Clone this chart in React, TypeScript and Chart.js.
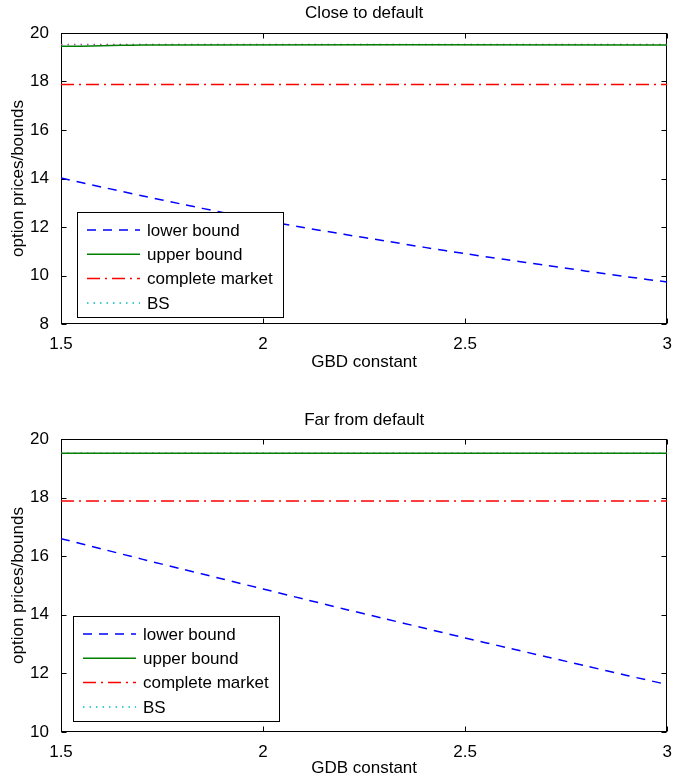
import React, { useEffect, useRef } from "react";
import { Chart, registerables } from "chart.js";

Chart.register(...registerables);

// ---------------- data ----------------
const SERIES_LABELS = ["lower bound", "upper bound", "complete market", "BS"];

const X_GRID = [1.5, 1.6, 1.7, 1.8, 1.9, 2.0, 2.1, 2.2, 2.3, 2.4, 2.5, 2.6, 2.7, 2.8, 2.9, 3.0];
const X_ENDS = [1.5, 3.0];
const X_TICKS = [1.5, 2.0, 2.5, 3.0];
const X_TICK_LABELS = ["1.5", "2", "2.5", "3"];

// Close to default
const TOP_LOWER = [14.02, 13.65, 13.29, 12.94, 12.6, 12.28, 11.98, 11.7, 11.43, 11.16, 10.9, 10.66, 10.42, 10.18, 9.95, 9.73];
const TOP_UPPER_X = [1.5, 1.55, 1.6, 1.65, 1.7, 3.0];
const TOP_UPPER = [19.45, 19.455, 19.47, 19.49, 19.51, 19.51];
const TOP_COMPLETE = [17.88, 17.88];
const TOP_BS = [19.53, 19.53];
const TOP_Y_TICKS = [8, 10, 12, 14, 16, 18, 20];

// Far from default
const BOT_LOWER = [16.6, 16.25, 15.9, 15.56, 15.22, 14.88, 14.54, 14.2, 13.87, 13.54, 13.21, 12.89, 12.57, 12.25, 11.93, 11.62];
const BOT_UPPER_X = [1.5, 3.0];
const BOT_UPPER = [19.51, 19.51];
const BOT_COMPLETE = [17.88, 17.88];
const BOT_BS = [19.51, 19.51];
const BOT_Y_TICKS = [10, 12, 14, 16, 18, 20];

// ---------------- styles ----------------
const FONT = "'Liberation Sans', Arial, Helvetica, sans-serif";
const FONT_SIZE = 17;
const STYLES = [
  { color: "#0000ff", legendColor: "#0000ff", dash: [9, 7] },
  { color: "#008000", legendColor: "#008000", dash: [] as number[] },
  { color: "#ff0000", legendColor: "#ff0000", dash: [13, 5, 2, 5] },
  { color: "#b040b0", legendColor: "#00bfbf", dash: [1.5, 5] },
];

function zip(xs: number[], ys: number[]) {
  return xs.map((x, i) => ({ x, y: ys[i] }));
}

const framePlugin = {
  id: "matlabFrame",
  beforeDatasetsDraw(chart: any) {
    const { ctx, chartArea: a, scales } = chart;
    ctx.save();
    ctx.strokeStyle = "#000";
    ctx.lineWidth = 1;
    const L = Math.round(a.left) + 0.5;
    const R = Math.round(a.right) - 0.5;
    const T = Math.round(a.top) + 0.5;
    const B = Math.round(a.bottom) - 0.5;
    ctx.strokeRect(L, T, R - L, B - T);
    const tl = 5;
    ctx.beginPath();
    scales.x.ticks.forEach((t: any) => {
      const px = Math.round(scales.x.getPixelForValue(t.value)) + 0.5;
      ctx.moveTo(px, B);
      ctx.lineTo(px, B - tl);
      ctx.moveTo(px, T);
      ctx.lineTo(px, T + tl);
    });
    scales.y.ticks.forEach((t: any) => {
      const py = Math.round(scales.y.getPixelForValue(t.value)) + 0.5;
      ctx.moveTo(L, py);
      ctx.lineTo(L + tl, py);
      ctx.moveTo(R, py);
      ctx.lineTo(R - tl, py);
    });
    ctx.stroke();
    ctx.restore();
  },
};

const axesTitlePlugin = {
  id: "axesTitle",
  afterDraw(chart: any, _args: any, opts: any) {
    const { ctx, chartArea: a } = chart;
    ctx.save();
    ctx.font = `${FONT_SIZE}px ${FONT}`;
    ctx.fillStyle = "#000";
    ctx.textAlign = "center";
    ctx.textBaseline = "middle";
    ctx.fillText(opts.text, (a.left + a.right) / 2, opts.y);
    ctx.restore();
  },
};

const legendBoxPlugin = {
  id: "insideLegend",
  afterDatasetsDraw(chart: any, _args: any, opts: any) {
    const { ctx } = chart;
    const { left, top, width, height } = opts;
    ctx.save();
    ctx.fillStyle = "#fff";
    ctx.fillRect(left, top, width, height);
    ctx.strokeStyle = "#000";
    ctx.lineWidth = 1;
    ctx.strokeRect(Math.round(left) + 0.5, Math.round(top) + 0.5, width, height);
    ctx.font = `${FONT_SIZE}px ${FONT}`;
    ctx.textBaseline = "middle";
    ctx.textAlign = "left";
    chart.data.datasets.forEach((ds: any, i: number) => {
      const st = STYLES[i];
      const y = top + 18 + i * 24.3;
      ctx.beginPath();
      ctx.strokeStyle = st.legendColor;
      ctx.lineWidth = 1.5;
      ctx.setLineDash(st.dash);
      ctx.moveTo(left + 10, y);
      ctx.lineTo(left + 63, y);
      ctx.stroke();
      ctx.setLineDash([]);
      ctx.fillStyle = "#000";
      ctx.fillText(ds.label, left + 70, y + 1);
    });
    ctx.restore();
  },
};

type PanelProps = {
  title: string;
  titleY: number;
  plotTop: number;
  xLabel: string;
  lower: number[];
  upperX: number[];
  upper: number[];
  complete: number[];
  bs: number[];
  yTicks: number[];
  xAxisHeight: number;
  xTitlePadBottom: number;
  xTickPad: number;
  legend: { left: number; top: number; width: number; height: number };
};

function Panel(p: PanelProps) {
  const ref = useRef<HTMLCanvasElement | null>(null);
  useEffect(() => {
    if (!ref.current) return;
    const seriesData = [
      zip(X_GRID, p.lower),
      zip(p.upperX, p.upper),
      zip(X_ENDS, p.complete),
      zip(X_ENDS, p.bs),
    ];
    const chart = new Chart(ref.current, {
      type: "line",
      data: {
        datasets: seriesData.map((d, i) => ({
          label: SERIES_LABELS[i],
          data: d,
          borderColor: STYLES[i].color,
          borderDash: STYLES[i].dash,
          borderWidth: 1.5,
          pointRadius: 0,
          tension: i === 0 || i === 1 ? 0.3 : 0,
          fill: false,
        })),
      },
      options: {
        animation: false,
        responsive: false,
        devicePixelRatio: 1,
        layout: { padding: { left: 0, right: 5, top: p.plotTop, bottom: 0 } },
        plugins: {
          legend: { display: false },
          tooltip: { enabled: false },
          title: { display: false },
          axesTitle: { text: p.title, y: p.titleY },
          insideLegend: p.legend,
        } as any,
        scales: {
          x: {
            type: "linear",
            min: X_TICKS[0],
            max: X_TICKS[X_TICKS.length - 1],
            grid: { display: false },
            border: { display: false },
            afterBuildTicks: (s: any) => {
              s.ticks = X_TICKS.map((v) => ({ value: v }));
            },
            afterFit: (s: any) => {
              s.height = p.xAxisHeight;
            },
            ticks: {
              autoSkip: false,
              maxRotation: 0,
              padding: p.xTickPad,
              color: "#000",
              font: { family: FONT, size: FONT_SIZE },
              callback: (v: any) => {
                const idx = X_TICKS.indexOf(Number(v));
                return idx >= 0 ? X_TICK_LABELS[idx] : "";
              },
            },
            title: {
              display: true,
              text: p.xLabel,
              color: "#000",
              font: { family: FONT, size: FONT_SIZE },
              padding: { top: 0, bottom: p.xTitlePadBottom },
            },
          },
          y: {
            type: "linear",
            min: p.yTicks[0],
            max: p.yTicks[p.yTicks.length - 1],
            grid: { display: false },
            border: { display: false },
            afterBuildTicks: (s: any) => {
              s.ticks = p.yTicks.map((v) => ({ value: v }));
            },
            afterFit: (s: any) => {
              s.width = 61;
            },
            ticks: {
              autoSkip: false,
              padding: 4,
              color: "#000",
              font: { family: FONT, size: FONT_SIZE },
              callback: (v: any) => String(v),
            },
            title: {
              display: true,
              text: "option prices/bounds",
              color: "#000",
              font: { family: FONT, size: FONT_SIZE },
              padding: { top: 7.8, bottom: 0 },
            },
          },
        },
      },
      plugins: [framePlugin, legendBoxPlugin, axesTitlePlugin],
    } as any);
    return () => chart.destroy();
  }, []);
  return <canvas ref={ref} width={674} height={390} style={{ display: "block", width: 674, height: 390 }} />;
}

export default function App() {
  return (
    <div style={{ position: "absolute", left: 0, top: 0, width: 674, height: 780, background: "#fff" }}>
      <Panel
        title="Close to default"
        titleY={13}
        plotTop={33}
        xLabel="GBD constant"
        lower={TOP_LOWER}
        upperX={TOP_UPPER_X}
        upper={TOP_UPPER}
        complete={TOP_COMPLETE}
        bs={TOP_BS}
        yTicks={TOP_Y_TICKS}
        xAxisHeight={66}
        xTitlePadBottom={17.8}
        xTickPad={2}
        legend={{ left: 77, top: 212, width: 206, height: 105 }}
      />
      <Panel
        title="Far from default"
        titleY={30}
        plotTop={49}
        xLabel="GDB constant"
        lower={BOT_LOWER}
        upperX={BOT_UPPER_X}
        upper={BOT_UPPER}
        complete={BOT_COMPLETE}
        bs={BOT_BS}
        yTicks={BOT_Y_TICKS}
        xAxisHeight={48}
        xTitlePadBottom={1.8}
        xTickPad={2}
        legend={{ left: 73, top: 226, width: 206, height: 105 }}
      />
    </div>
  );
}
